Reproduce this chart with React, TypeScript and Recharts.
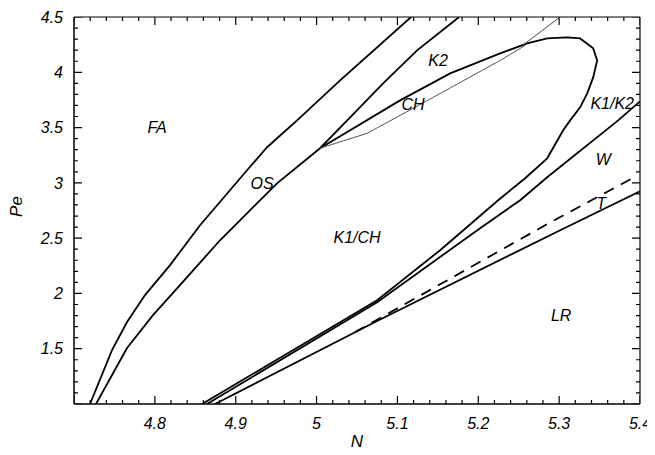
import { ComposedChart, Line, XAxis, YAxis, ReferenceDot, Label } from "recharts";

// boundary curves, [N, Pe] pairs
const FA_OS: [number, number][] = [
  [4.7198, 1], [4.747, 1.488], [4.7656, 1.741], [4.7878, 1.985], [4.8188, 2.256],
  [4.8559, 2.617], [4.914, 3.114], [4.9388, 3.322], [4.9759, 3.565], [5.0291, 3.927], [5.1169, 4.5],
];
const OS_K1: [number, number][] = [
  [4.7272, 1], [4.7656, 1.506], [4.7977, 1.804], [4.8311, 2.075], [4.8806, 2.481],
  [4.9511, 2.996], [5.0043, 3.313], [5.0415, 3.593], [5.0823, 3.9], [5.1243, 4.198], [5.1763, 4.5],
];
const HOPF_LOOP: [number, number][] = [
  [4.8584, 1], [5.0749, 1.939], [5.1528, 2.391], [5.2246, 2.843], [5.258, 3.042],
  [5.2852, 3.222], [5.305, 3.475], [5.3136, 3.565], [5.326, 3.683], [5.3347, 3.809],
  [5.3421, 3.954], [5.347, 4.107], [5.3421, 4.216], [5.326, 4.306], [5.3099, 4.315],
  [5.2852, 4.306], [5.2604, 4.261], [5.227, 4.171], [5.1652, 3.99], [5.1033, 3.746], [5.0043, 3.313],
];
const CH_LOWER: [number, number][] = [
  [5.0043, 3.313], [5.0625, 3.448], [5.1441, 3.773], [5.227, 4.107], [5.258, 4.243],
];
const CH_TOP: [number, number][] = [[5.255, 4.245], [5.3013, 4.5]];
const K1K2_W: [number, number][] = [
  [4.8645, 1], [5.0749, 1.921], [5.2023, 2.59], [5.2518, 2.843], [5.2852, 3.051],
  [5.373, 3.565], [5.4, 3.737],
];
const W_T: [number, number][] = [[5.0476, 1.65], [5.2827, 2.617], [5.3953, 3.06]];
const T_LR: [number, number][] = [[4.8744, 1], [5.0724, 1.741], [5.3013, 2.572], [5.4, 2.924]];

const REGION_NAMES = ["FA", "OS", "K2", "CH", "K1/CH", "K1/K2", "W", "T", "LR"];
const REGION_N = [4.8027, 4.9326, 5.1503, 5.1194, 5.0501, 5.3656, 5.3545, 5.352, 5.3025];
const REGION_PE = [3.502, 2.996, 4.107, 3.71, 2.509, 3.719, 3.213, 2.816, 1.804];

const X_LABELED = [4.8, 4.9, 5, 5.1, 5.2, 5.3, 5.4];
const Y_LABELED = [1.5, 2, 2.5, 3, 3.5, 4, 4.5];

const X_TICKS = Array.from({ length: 36 }, (_, i) => Math.round((4.7 + i * 0.02) * 100) / 100);
const Y_TICKS = Array.from({ length: 36 }, (_, i) => Math.round((1 + i * 0.1) * 10) / 10);

const FONT = "'Liberation Sans', Arial, sans-serif";
// px per data unit, used only to turn tick lengths into data units
const PX_X = 808.3;
const PX_Y = 110.7;

const toRows = (pts: [number, number][]) => pts.map(([x, y]) => ({ x, y }));
const near = (a: number, b: number) => Math.abs(a - b) < 1e-6;
const xMajor = (v: number) => near(v * 10, Math.round(v * 10));
const yMajor = (v: number) => near(v * 2, Math.round(v * 2));

// inward frame ticks as broken polylines (null y breaks the path)
const xTickRows = (base: number, dir: number) =>
  X_TICKS.flatMap((v) => {
    const len = (xMajor(v) ? 8 : 4) / PX_Y;
    return [{ x: v, y: base }, { x: v, y: base + dir * len }, { x: v, y: null }];
  });
const yTickRows = (base: number, dir: number) =>
  Y_TICKS.flatMap((v) => {
    const len = (yMajor(v) ? 8 : 4) / PX_X;
    return [{ x: base, y: v }, { x: base + dir * len, y: v }, { x: base + dir * len, y: null }];
  });

function BottomTick({ x, y, payload }: any) {
  const v = payload.value;
  if (!X_LABELED.some((m) => near(m, v))) return <g />;
  return (
    <text x={x} y={y + 25} textAnchor="middle" fontSize={16} fontStyle="italic" fontFamily={FONT} fill="#000">
      {String(Number(v.toFixed(1)))}
    </text>
  );
}

function LeftTick({ x, y, payload }: any) {
  const v = payload.value;
  if (!Y_LABELED.some((m) => near(m, v))) return <g />;
  return (
    <text x={x - 11} y={y} dy="0.36em" textAnchor="end" fontSize={16} fontStyle="italic" fontFamily={FONT} fill="#000">
      {String(Number(v.toFixed(1)))}
    </text>
  );
}

const curveProps = {
  dataKey: "y",
  dot: false,
  activeDot: false,
  isAnimationActive: false,
  type: "linear" as const,
  stroke: "#000",
  strokeWidth: 1.8,
  xAxisId: "b",
  yAxisId: "l",
};

export default function App() {
  return (
    <div style={{ width: 650, height: 446, background: "#fff" }}>
      <ComposedChart width={650} height={446} margin={{ top: 8, right: 10, bottom: 0, left: 0 }}>
        <XAxis
          xAxisId="b"
          type="number"
          dataKey="x"
          domain={[4.7, 5.4]}
          allowDataOverflow
          ticks={X_TICKS}
          interval={0}
          tickSize={0}
          tickMargin={0}
          tickLine={false}
          tick={BottomTick}
          height={50}
          axisLine={{ stroke: "#000", strokeWidth: 1.5 }}
        >
          <Label
            content={({ viewBox }: any) => (
              <text
                x={viewBox.x + viewBox.width / 2}
                y={viewBox.y + 43}
                textAnchor="middle"
                fontSize={17}
                fontStyle="italic"
                fontFamily={FONT}
                fill="#000"
              >
                N
              </text>
            )}
          />
        </XAxis>
        <XAxis
          xAxisId="t"
          orientation="top"
          type="number"
          domain={[4.7, 5.4]}
          allowDataOverflow
          tick={false}
          tickLine={false}
          height={1}
          axisLine={{ stroke: "#000", strokeWidth: 1.2 }}
        />
        <YAxis
          yAxisId="l"
          type="number"
          domain={[1, 4.5]}
          allowDataOverflow
          ticks={Y_TICKS}
          interval={0}
          tickSize={0}
          tickMargin={0}
          tickLine={false}
          tick={LeftTick}
          width={66}
          axisLine={{ stroke: "#000", strokeWidth: 1.5 }}
        >
          <Label
            content={({ viewBox }: any) => {
              const cx = viewBox.x + 8;
              const cy = viewBox.y + viewBox.height / 2 - 4;
              return (
                <text
                  x={cx}
                  y={cy}
                  dy="0.36em"
                  textAnchor="middle"
                  transform={`rotate(-90, ${cx}, ${cy})`}
                  fontSize={17}
                  fontStyle="italic"
                  fontFamily={FONT}
                  fill="#000"
                >
                  Pe
                </text>
              );
            }}
          />
        </YAxis>
        <YAxis
          yAxisId="r"
          orientation="right"
          type="number"
          domain={[1, 4.5]}
          allowDataOverflow
          tick={false}
          tickLine={false}
          width={8}
          axisLine={{ stroke: "#000", strokeWidth: 1.2 }}
        />

        <Line {...curveProps} data={xTickRows(1, 1)} strokeWidth={1.2} />
        <Line {...curveProps} data={xTickRows(4.5, -1)} strokeWidth={1.2} />
        <Line {...curveProps} data={yTickRows(4.7, 1)} strokeWidth={1.2} />
        <Line {...curveProps} data={yTickRows(5.4, -1)} strokeWidth={1.2} />

        <Line {...curveProps} data={toRows(FA_OS)} />
        <Line {...curveProps} data={toRows(OS_K1)} />
        <Line {...curveProps} data={toRows(HOPF_LOOP)} />
        <Line {...curveProps} data={toRows(CH_LOWER)} stroke="#555" strokeWidth={1} />
        <Line {...curveProps} data={toRows(CH_TOP)} stroke="#444" strokeWidth={1} />
        <Line {...curveProps} data={toRows(K1K2_W)} />
        <Line {...curveProps} data={toRows(W_T)} strokeDasharray="11 8" />
        <Line {...curveProps} data={toRows(T_LR)} />

        {REGION_NAMES.map((name, i) => (
          <ReferenceDot
            key={name}
            xAxisId="b"
            yAxisId="l"
            x={REGION_N[i]}
            y={REGION_PE[i]}
            r={0}
            fill="none"
            stroke="none"
          >
            <Label value={name} position="center" fontSize={16} fontStyle="italic" fontFamily={FONT} fill="#000" />
          </ReferenceDot>
        ))}
      </ComposedChart>
    </div>
  );
}
